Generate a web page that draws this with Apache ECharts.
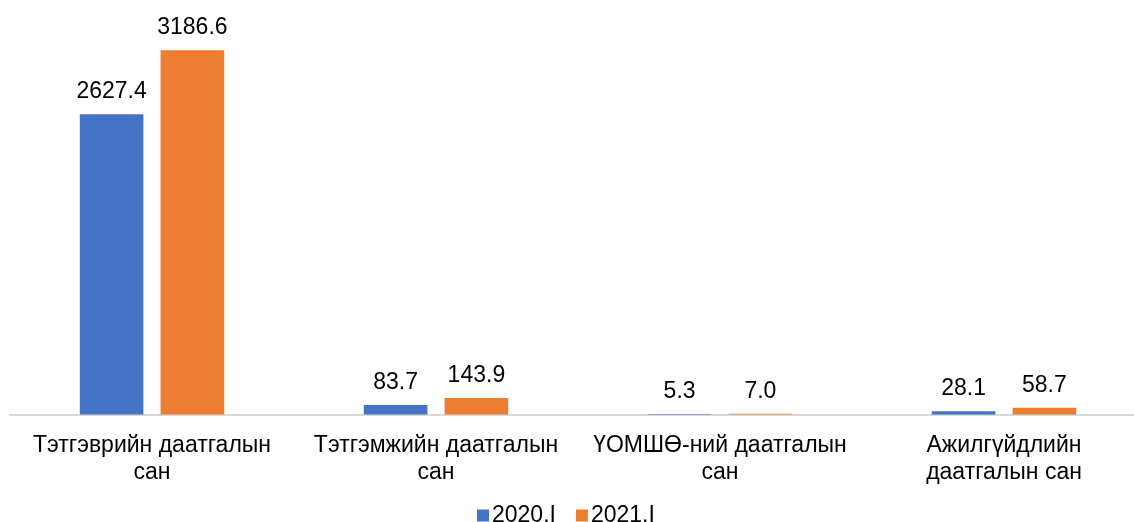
<!DOCTYPE html>
<html>
<head>
<meta charset="utf-8">
<script src="https://cdn.jsdelivr.net/npm/echarts@6/dist/echarts.min.js"></script>
<style>
  html, body { margin: 0; padding: 0; background: #fff; overflow: hidden; }
  #chart { width: 1146px; height: 522px; }
</style>
</head>
<body>
<div id="chart"></div>
<script>
const categories = [
  'Тэтгэврийн даатгалын\nсан',
  'Тэтгэмжийн даатгалын\nсан',
  'ҮОМШӨ-ний даатгалын\nсан',
  'Ажилгүйдлийн\nдаатгалын сан'
]
const seriesNames = ['2020.I', '2021.I']
const values2020 = [2627.4, 83.7, 5.3, 28.1]
const values2021 = [3186.6, 143.9, 7.0, 58.7]
const colors = ['#4472C4', '#ED7D31']

const font = '"Liberation Sans", Arial, sans-serif'
const chart = echarts.init(document.getElementById('chart'))

const labelStyle = {
  show: true,
  position: 'top',
  distance: 11,
  color: '#000',
  fontSize: 23,
  fontFamily: font,
  formatter: p => p.value.toFixed(1)
}

chart.setOption({
  animation: false,
  textStyle: { fontFamily: font },
  legend: {
    data: seriesNames,
    top: 499,
    left: 472,
    itemWidth: 12,
    itemHeight: 12,
    itemGap: 20,
    icon: 'rect',
    textStyle: { color: '#000', fontSize: 23, fontFamily: font, padding: [0, 0, 0, -2] }
  },
  grid: { left: 10, right: 0, top: 14.5, bottom: 107.5, containLabel: false },
  xAxis: {
    type: 'category',
    data: categories,
    axisTick: { show: false },
    axisLine: { lineStyle: { color: '#d9d9d9', width: 2 } },
    axisLabel: {
      color: '#000',
      fontSize: 23,
      lineHeight: 27,
      margin: 18,
      fontFamily: font,
      interval: 0
    }
  },
  yAxis: {
    type: 'value',
    min: 0,
    max: 3500,
    show: false
  },
  series: [
    {
      name: seriesNames[0],
      type: 'bar',
      data: values2020,
      barWidth: '22.4%',
      barGap: '27%',
      itemStyle: { color: colors[0] },
      label: labelStyle
    },
    {
      name: seriesNames[1],
      type: 'bar',
      data: values2021,
      barWidth: '22.4%',
      itemStyle: { color: colors[1] },
      label: labelStyle
    }
  ]
})
</script>
</body>
</html>
